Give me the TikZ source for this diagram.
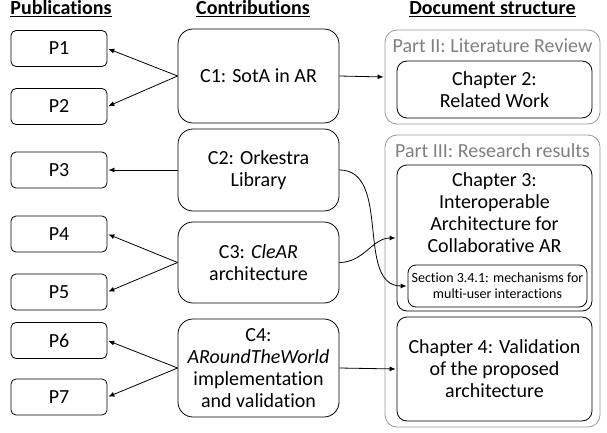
\documentclass[tikz,border=0pt]{standalone}
\usepackage{fontspec}
\setmainfont{Carlito}[Ligatures=NoCommon]
\usepackage{xcolor}
\usetikzlibrary{arrows.meta,positioning}
\definecolor{partgray}{HTML}{9a9a9a}
\definecolor{titlegray}{HTML}{808080}

\begin{document}
\begin{tikzpicture}[
  x=1pt, y=-1pt,
  txt/.style={font=\fontsize{20}{22}\selectfont, align=center},
  head/.style={font=\fontsize{20}{22}\selectfont\bfseries, anchor=base},
  pub/.style={rectangle, rounded corners=5pt, draw, line width=0.8pt,
    minimum width=96pt, minimum height=36pt, inner sep=0pt, txt},
  contrib/.style={rectangle, rounded corners=15pt, draw, line width=0.8pt,
    minimum width=161pt, inner sep=0pt, txt},
  part/.style={rectangle, rounded corners=12pt, draw=partgray, line width=0.8pt,
    minimum width=215pt, inner sep=0pt},
  parttitle/.style={font=\fontsize{20}{22}\selectfont, text=titlegray, anchor=base},
  chap/.style={rectangle, rounded corners=10pt, draw, line width=0.8pt,
    minimum width=195pt, inner sep=0pt, txt},
  arr/.style={-{Latex[length=6pt,width=5pt]}, line width=0.8pt, shorten >=1pt}
]
\useasboundingbox (0,0) rectangle (607,433);

\node[head] (hpub) at (61,15)    {\underline{Publications}};
\node[head] (hcon) at (253,15)   {\underline{Contributions}};
\node[head] (hdoc) at (492.5,15) {\underline{Document structure}};

\node[pub] (p1) at (59,48.5)  {P1};
\node[pub] (p2) at (59,106.5) {P2};
\node[pub] (p3) at (59,170)   {P3};
\node[pub] (p4) at (59,234)   {P4};
\node[pub] (p5) at (59,292)   {P5};
\node[pub] (p6) at (59,340.5) {P6};
\node[pub] (p7) at (59,397)   {P7};

\node[contrib, minimum height=94pt] (c1) at (258.5,76)    {C1: SotA in AR};
\node[contrib, minimum height=82pt] (c2) at (258.5,170)   {C2: Orkestra\\Library};
\node[contrib, minimum height=81pt] (c3) at (258.5,262.5) {C3: \textit{CleAR}\\architecture};
\node[contrib, minimum height=98pt] (c4) at (258.5,368)
  {C4:\\\textit{ARoundTheWorld}\\implementation\\and validation};

\node[part, minimum height=94pt] (part2) at (492.5,77) {};
\node[parttitle] (part2t) at (492.5,53) {Part II: Literature Review};
\node[chap, minimum height=57pt] (ch2) at (494.5,89.5) {Chapter 2:\\Related Work};

\node[part, minimum height=292pt] (part3) at (492.5,281) {};
\node[parttitle] (part3t) at (492.5,157) {Part III: Research results};
\node[chap, minimum height=146pt] (ch3) at (494.5,238) {};
\node[txt, anchor=north, inner sep=0pt] (ch3t) at (494.5,172)
  {Chapter 3:\\Interoperable\\Architecture for\\Collaborative AR};
\node[rectangle, rounded corners=8pt, draw, line width=0.8pt, minimum width=179pt,
  minimum height=42pt, inner sep=0pt, font=\fontsize{14}{16}\selectfont, align=center]
  (sec) at (497.5,286) {Section 3.4.1: mechanisms for\\multi-user interactions};
\node[chap, minimum height=104pt] (ch4) at (494.5,369)
  {Chapter 4: Validation\\of the proposed\\architecture};

\draw[arr] (c1.west) -- (p1.east);
\draw[arr] (c1.west) -- (p2.east);
\draw[arr] (c2.west) -- (p3.east);
\draw[arr] (c3.west) -- (p4.east);
\draw[arr] (c3.west) -- (p5.east);
\draw[arr] (c4.west) -- (p6.east);
\draw[arr] (c4.west) -- (p7.east);
\draw[arr] (c1.east) -- (part2.west);
\draw[arr] (c4.east) -- (ch4.west);
\draw[arr] (c2.east) to[out=0,in=180] (sec.west);
\draw[arr] (c3.east) to[out=0,in=180] (ch3.west);
\end{tikzpicture}
\end{document}
